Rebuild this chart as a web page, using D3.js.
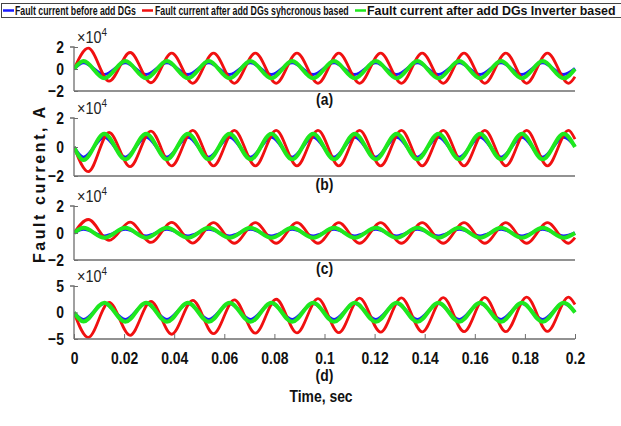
<!DOCTYPE html>
<html>
<head>
<meta charset="utf-8">
<script src="https://cdn.jsdelivr.net/npm/d3@7"></script>
<style>
  body { margin: 0; background: #fff; }
  svg text { font-family: "Liberation Sans", Arial, sans-serif; font-weight: bold; }
</style>
</head>
<body>
<div id="chart"></div>
<script>
// times of the wave extremes (s); first and last are the ends of the record
const redT = [0, 0.0057, 0.0140, 0.0224, 0.0307, 0.0390, 0.0474, 0.0557, 0.0640, 0.0724, 0.0807, 0.0890, 0.0974,
  0.1057, 0.1140, 0.1224, 0.1307, 0.1390, 0.1474, 0.1557, 0.1640, 0.1724, 0.1807, 0.1890, 0.1974, 0.2];
const dgT = [0, 0.0038, 0.0121, 0.0205, 0.0288, 0.0371, 0.0455, 0.0538, 0.0621, 0.0705, 0.0788, 0.0871, 0.0955,
  0.1038, 0.1121, 0.1205, 0.1288, 0.1371, 0.1455, 0.1538, 0.1621, 0.1705, 0.1788, 0.1871, 0.1955, 0.2];

// values x10^4 A at those times
const redA = [0, 1.9, -1.1, 1.5, -1.25, 1.45, -1.3, 1.45, -1.3, 1.45, -1.3, 1.45, -1.3, 1.45, -1.3,
  1.45, -1.3, 1.45, -1.3, 1.45, -1.3, 1.45, -1.3, 1.45, -1.3, -0.7];
const blueA = [0, 0.57, -0.5, 0.57, -0.5, 0.57, -0.5, 0.57, -0.5, 0.57, -0.5, 0.57, -0.5, 0.57, -0.5,
  0.57, -0.5, 0.57, -0.5, 0.57, -0.5, 0.57, -0.5, 0.57, -0.5, 0.05];
const greenA = [0, 0.72, -0.85, 0.72, -0.85, 0.72, -0.85, 0.72, -0.85, 0.72, -0.85, 0.72, -0.85, 0.72, -0.85,
  0.72, -0.85, 0.72, -0.85, 0.72, -0.85, 0.72, -0.85, 0.72, -0.85, 0.0];

const redB = [0, -1.7, 1.0, -1.35, 1.1, -1.3, 1.15, -1.3, 1.15, -1.3, 1.15, -1.3, 1.15, -1.3, 1.15,
  -1.3, 1.15, -1.3, 1.15, -1.3, 1.15, -1.3, 1.15, -1.3, 1.15, 0.55];
const blueB = [0, -0.7, 0.67, -0.7, 0.67, -0.7, 0.67, -0.7, 0.67, -0.7, 0.67, -0.7, 0.67, -0.7, 0.67,
  -0.7, 0.67, -0.7, 0.67, -0.7, 0.67, -0.7, 0.67, -0.7, 0.67, 0.05];
const greenB = [0, -0.9, 0.92, -0.85, 0.92, -0.85, 0.92, -0.85, 0.92, -0.85, 0.92, -0.85, 0.92, -0.85, 0.92,
  -0.85, 0.92, -0.85, 0.92, -0.85, 0.92, -0.85, 0.92, -0.85, 0.92, 0.0];

const redC = [0, 1.0, -0.55, 0.8, -0.7, 0.78, -0.75, 0.77, -0.76, 0.77, -0.76, 0.77, -0.76, 0.77, -0.76,
  0.77, -0.76, 0.77, -0.76, 0.77, -0.76, 0.77, -0.76, 0.77, -0.76, -0.35];
const blueC = [0, 0.27, -0.22, 0.27, -0.22, 0.27, -0.22, 0.27, -0.22, 0.27, -0.22, 0.27, -0.22, 0.27, -0.22,
  0.27, -0.22, 0.27, -0.22, 0.27, -0.22, 0.27, -0.22, 0.27, -0.22, 0.0];
const greenC = [0, 0.38, -0.35, 0.38, -0.35, 0.38, -0.35, 0.38, -0.35, 0.38, -0.35, 0.38, -0.35, 0.38, -0.35,
  0.38, -0.35, 0.38, -0.35, 0.38, -0.35, 0.38, -0.35, 0.38, -0.35, 0.0];

const redD = [0, -4.7, 1.9, -4.3, 2.1, -4.1, 2.3, -4.0, 2.4, -3.9, 2.5, -3.85, 2.6, -3.8, 2.7,
  -3.7, 2.75, -3.65, 2.8, -3.6, 2.85, -3.6, 2.9, -3.55, 2.9, 1.5];
const blueD = [0, -1.3, 1.7, -1.3, 1.7, -1.3, 1.7, -1.3, 1.7, -1.3, 1.7, -1.3, 1.7, -1.3, 1.7,
  -1.3, 1.7, -1.3, 1.7, -1.3, 1.7, -1.3, 1.7, -1.3, 1.7, 0.15];
const greenD = [0, -1.7, 1.85, -1.75, 1.85, -1.75, 1.85, -1.75, 1.85, -1.75, 1.85, -1.75, 1.85, -1.75, 1.85,
  -1.75, 1.85, -1.75, 1.85, -1.75, 1.85, -1.75, 1.85, -1.75, 1.85, 0.0];

const panelNames = ['(a)', '(b)', '(c)', '(d)'];
const yDomains = [[-2, 2], [-2, 2], [-2, 2], [-5, 5]];
const yTicks = [[-2, 0, 2], [-2, 0, 2], [-2, 0, 2], [-5, 0, 5]];
const xTicks = [0, 0.02, 0.04, 0.06, 0.08, 0.1, 0.12, 0.14, 0.16, 0.18, 0.2];
const seriesNames = ['Fault current before add DGs', 'Fault current after add DGs syhcronous based', 'Fault current after add DGs Inverter based'];
const panelData = [
  { blue: blueA, red: redA, green: greenA },
  { blue: blueB, red: redB, green: greenB },
  { blue: blueC, red: redC, green: greenC },
  { blue: blueD, red: redD, green: greenD }
];

const W = 621, H = 426;
const svg = d3.select('#chart').append('svg').attr('width', W).attr('height', H);

// pixel layout of the four stacked panels
const left = 74, right = 575;
const tops = [47, 118, 206, 286];
const bottoms = [91, 176, 260, 339];
const axisColor = '#6e6e6e';
const colors = { blue: '#1a1aff', red: '#f01010', green: '#1ee81e' };
const widths = { blue: 3, red: 2.8, green: 4 };
const NARROW = 0.82; // the original uses a narrow bold face

// squeeze a text horizontally around its own anchor point
function narrow(sel, s) {
  sel.each(function () {
    const t = d3.select(this);
    const tx = +t.attr('x') || 0, ty = +t.attr('y') || 0;
    t.attr('x', 0).attr('y', 0).attr('transform', `translate(${tx},${ty}) scale(${s},1)`);
  });
}

const x = d3.scaleLinear().domain([0, 0.2]).range([left, right]);

panelData.forEach((p, i) => {
  const y = d3.scaleLinear().domain(yDomains[i]).range([bottoms[i], tops[i]]);
  const g = svg.append('g');

  const clipId = 'clip' + i;
  svg.append('clipPath').attr('id', clipId).append('rect')
    .attr('x', left).attr('y', tops[i] - 3).attr('width', right - left + 3).attr('height', bottoms[i] - tops[i] + 3);

  const line = d3.line().curve(d3.curveMonotoneX);
  ['blue', 'red', 'green'].forEach(k => {
    const ts = k === 'red' ? redT : dgT;
    const pts = p[k].map((v, j) => [x(ts[j]), y(v)]);
    g.append('path')
      .attr('d', line(pts))
      .attr('fill', 'none')
      .attr('stroke', colors[k])
      .attr('stroke-width', widths[k])
      .attr('stroke-linejoin', 'round')
      .attr('clip-path', `url(#${clipId})`);
  });

  // y axis
  const yAxis = d3.axisLeft(y).tickValues(yTicks[i]).tickSize(-4).tickPadding(10).tickFormat(d3.format('d'));
  const ya = g.append('g').attr('transform', `translate(${left},0)`).call(yAxis);
  ya.select('.domain').attr('stroke', axisColor).attr('stroke-width', 1.3).attr('d', `M-4,${tops[i]}H0V${bottoms[i]}`);
  ya.selectAll('.tick line').attr('stroke', axisColor);
  ya.selectAll('.tick text').attr('font-size', 17).attr('fill', '#111')
    .style('font-family', '"Liberation Sans", Arial, sans-serif').style('font-weight', 'bold')
    .call(narrow, NARROW);

  // x axis
  const xa = g.append('g').attr('transform', `translate(0,${bottoms[i]})`);
  if (i === 3) {
    xa.call(d3.axisBottom(x).tickValues(xTicks).tickSize(-5).tickPadding(13).tickFormat(d => d === 0 ? '0' : String(+d.toFixed(2))));
    xa.selectAll('.tick text').attr('font-size', 17).attr('fill', '#111')
      .style('font-family', '"Liberation Sans", Arial, sans-serif').style('font-weight', 'bold')
      .call(narrow, NARROW);
    xa.selectAll('.tick line').attr('stroke', axisColor);
    xa.select('.domain').attr('stroke', axisColor).attr('stroke-width', 1.3).attr('d', `M${left},0H${right}`);
  } else {
    xa.append('path').attr('d', `M${left},0H${right}`).attr('stroke', axisColor).attr('stroke-width', 1.3);
  }

  // exponent label
  const ex = svg.append('text').attr('x', 77).attr('y', tops[i] - 4)
    .style('font-weight', 'normal').attr('font-size', 16).attr('fill', '#222');
  ex.append('tspan').text('\u00d710');
  ex.append('tspan').attr('dy', -7).attr('font-size', 11).text('4');
  narrow(ex, 0.9);

  // panel letter
  svg.append('text').attr('x', (left + right) / 2).attr('y', i === 3 ? 381 : bottoms[i] + 14)
    .attr('text-anchor', 'middle').attr('font-size', 17).attr('fill', '#111').text(panelNames[i])
    .call(narrow, NARROW);
});

// axis titles
svg.append('text').attr('x', 321).attr('y', 402).attr('text-anchor', 'middle')
  .attr('font-size', 17).attr('fill', '#111').text('Time, sec')
  .call(narrow, NARROW);
svg.append('text').attr('transform', 'translate(45,185) rotate(-90)').attr('text-anchor', 'middle')
  .attr('font-size', 16).attr('fill', '#111')
  .attr('textLength', 156).attr('lengthAdjust', 'spacing')
  .text('Fault current, A');

// legend
svg.append('rect').attr('x', 1.5).attr('y', 3.5).attr('width', 630).attr('height', 14)
  .attr('fill', '#fff').attr('stroke', '#444').attr('stroke-width', 1);
const legendItems = [
  { k: 'blue', x0: 3, tx: 15, len: 121 },
  { k: 'red', x0: 142, tx: 155, len: 194 },
  { k: 'green', x0: 355, tx: 367, len: 249 }
];
legendItems.forEach((d, i) => {
  svg.append('line').attr('x1', d.x0).attr('x2', d.x0 + 11).attr('y1', 10.5).attr('y2', 10.5)
    .attr('stroke', colors[d.k]).attr('stroke-width', 2.5);
  const t = svg.append('text').attr('x', d.tx).attr('y', 14.5).attr('font-size', 12).attr('fill', '#111')
    .text(seriesNames[i]);
  const natural = t.node().getComputedTextLength();
  narrow(t, d.len / natural);
});
</script>
</body>
</html>
